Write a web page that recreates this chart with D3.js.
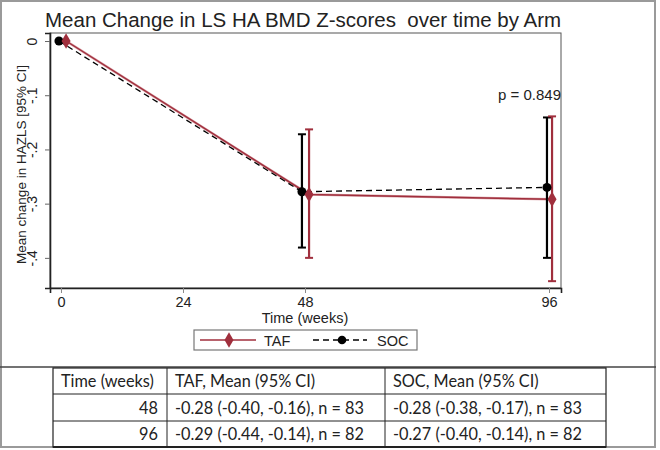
<!DOCTYPE html>
<html>
<head>
<meta charset="utf-8">
<script src="https://cdn.jsdelivr.net/npm/d3@7"></script>
<style>
  html, body { margin: 0; padding: 0; background: #fff; }
  svg { display: block; }
  .arial { font-family: Arial, "Liberation Sans", sans-serif; }
  .tbl { font-family: Lato, "Open Sans", sans-serif; }
</style>
</head>
<body>
<svg id="chart" width="660" height="450"></svg>
<script>
// ---------- data ----------
const weeks = [0, 48, 96];
const xTicks = [0, 24, 48, 96];
const yTicks = [0, -0.1, -0.2, -0.3, -0.4];
const yTickLabels = ["0", "-.1", "-.2", "-.3", "-.4"];

// slightly jittered plotting times (as drawn)
const tafTime = [1.0, 48.8, 96.6];
const socTime = [-0.4, 47.4, 95.6];

const tafMean = [0, -0.283, -0.292];
const tafLo   = [null, -0.400, -0.443];
const tafHi   = [null, -0.163, -0.139];

const socMean = [0, -0.278, -0.270];
const socLo   = [null, -0.381, -0.400];
const socHi   = [null, -0.172, -0.141];

const seriesNames = ["TAF", "SOC"];
const pText = "p = 0.849";
const titleText = "Mean Change in LS HA BMD Z-scores  over time by Arm";
const yAxisTitle = "Mean change in HAZLS [95% CI]";
const xAxisTitle = "Time (weeks)";

const tableHeader = ["Time (weeks)", "TAF, Mean (95% CI)", "SOC, Mean (95% CI)"];
const tableWeeks = ["48", "96"];
const tableTaf = ["-0.28 (-0.40, -0.16), n = 83", "-0.29 (-0.44, -0.14), n = 82"];
const tableSoc = ["-0.28 (-0.38, -0.17), n = 83", "-0.27 (-0.40, -0.14), n = 82"];

// ---------- layout ----------
const svg = d3.select("#chart");
const TAF_COL = "#a02f3d";
const SOC_COL = "#000";

const plot = {left: 50, right: 561, top: 33, bottom: 288};
const x = d3.scaleLinear().domain([-2.16, 98.36]).range([plot.left, plot.right]);
const y = d3.scaleLinear().domain([0.0148, -0.4556]).range([plot.top, plot.bottom]);

// outer frame
svg.append("rect").attr("x", 1).attr("y", 1).attr("width", 654).attr("height", 446)
  .attr("fill", "#fff").attr("stroke", "#9a9a9a").attr("stroke-width", 2);
svg.append("line").attr("x1", 0).attr("x2", 656).attr("y1", 367).attr("y2", 367)
  .attr("stroke", "#444").attr("stroke-width", 1.5);

// title
svg.append("text").attr("class", "arial").attr("x", 45).attr("y", 27)
  .style("white-space", "pre")
  .attr("font-size", 20.5).attr("fill", "#222").text(titleText);

// plot frame
svg.append("rect").attr("x", plot.left).attr("y", plot.top)
  .attr("width", plot.right - plot.left).attr("height", plot.bottom - plot.top)
  .attr("fill", "#fff").attr("stroke", "#555").attr("stroke-width", 1);

// axes
const yAxis = d3.axisLeft(y).tickValues(yTicks).tickSize(5).tickFormat((d, i) => yTickLabels[i]);
const gy = svg.append("g").attr("transform", `translate(${plot.left},0)`).call(yAxis);
gy.select(".domain").attr("stroke", "#222").attr("stroke-width", 1.6);
gy.selectAll(".tick line").attr("stroke", "#666");
gy.selectAll(".tick text").remove();
gy.selectAll(".tick").append("text").attr("class", "arial")
  .attr("transform", "translate(-13,0) rotate(-90)")
  .attr("text-anchor", "middle").attr("fill", "#222").attr("font-size", 14)
  .text((d, i) => yTickLabels[i]);

const xAxis = d3.axisBottom(x).tickValues(xTicks).tickSize(5).tickFormat(d3.format("d"));
const gx = svg.append("g").attr("transform", `translate(0,${plot.bottom})`).call(xAxis);
gx.select(".domain").attr("stroke", "#222").attr("stroke-width", 1.6);
gx.selectAll(".tick line").attr("stroke", "#888");
gx.selectAll(".tick text").attr("class", "arial").attr("font-size", 14.5).attr("fill", "#222")
  .attr("dy", 0).attr("y", 18.5);

// axis titles
svg.append("text").attr("class", "arial")
  .attr("transform", `translate(26,${(plot.top + plot.bottom) / 2 + 4}) rotate(-90)`)
  .attr("text-anchor", "middle").attr("font-size", 13.5).attr("fill", "#222").text(yAxisTitle);
svg.append("text").attr("class", "arial").attr("x", 305).attr("y", 323).attr("text-anchor", "middle")
  .attr("font-size", 14.5).attr("fill", "#222").text(xAxisTitle);

// p value
svg.append("text").attr("class", "arial").attr("x", plot.right).attr("y", 100).attr("text-anchor", "end")
  .attr("font-size", 15).attr("fill", "#222").text(pText);

// lines
const tafPts = weeks.map((w, i) => ({t: tafTime[i], m: tafMean[i], lo: tafLo[i], hi: tafHi[i]}));
const socPts = weeks.map((w, i) => ({t: socTime[i], m: socMean[i], lo: socLo[i], hi: socHi[i]}));
const line = d3.line().x(d => x(d.t)).y(d => y(d.m));

svg.append("path").datum(tafPts).attr("d", line).attr("fill", "none")
  .attr("stroke", "#d9a0a6").attr("stroke-width", 2.6);
svg.append("path").datum(tafPts).attr("d", line).attr("fill", "none")
  .attr("stroke", TAF_COL).attr("stroke-width", 1.4);
svg.append("path").datum(socPts).attr("d", line).attr("fill", "none")
  .attr("stroke", SOC_COL).attr("stroke-width", 1.3).attr("stroke-dasharray", "6,4");

// error bars
function errorBars(pts, col) {
  const g = svg.append("g");
  const e = pts.filter(d => d.lo !== null);
  g.selectAll("line.v").data(e).join("line")
    .attr("x1", d => x(d.t)).attr("x2", d => x(d.t))
    .attr("y1", d => y(d.lo)).attr("y2", d => y(d.hi))
    .attr("stroke", col).attr("stroke-width", 2.2);
  ["lo", "hi"].forEach(k => {
    g.selectAll("line.c" + k).data(e).join("line")
      .attr("x1", d => x(d.t) - 4).attr("x2", d => x(d.t) + 4)
      .attr("y1", d => y(d[k])).attr("y2", d => y(d[k]))
      .attr("stroke", col).attr("stroke-width", 2);
  });
}
errorBars(socPts, SOC_COL);
errorBars(tafPts, TAF_COL);

// markers
const diamond = d3.symbol().type(d3.symbolDiamond).size(70);
svg.append("g").selectAll("circle").data(socPts).join("circle")
  .attr("cx", d => x(d.t)).attr("cy", d => y(d.m)).attr("r", 4.5).attr("fill", SOC_COL);
svg.append("g").selectAll("path").data(tafPts).join("path")
  .attr("d", diamond).attr("transform", d => `translate(${x(d.t)},${y(d.m)})`)
  .attr("fill", TAF_COL);

// legend
const lg = svg.append("g");
lg.append("rect").attr("x", 194).attr("y", 330).attr("width", 223).attr("height", 20)
  .attr("fill", "#fff").attr("stroke", "#777").attr("stroke-width", 1.2);
lg.append("line").attr("x1", 200).attr("x2", 256).attr("y1", 340).attr("y2", 340)
  .attr("stroke", TAF_COL).attr("stroke-width", 1.4);
lg.append("path").attr("d", diamond).attr("transform", "translate(229,340)").attr("fill", TAF_COL);
lg.append("text").attr("class", "arial").attr("x", 264).attr("y", 345.5).attr("font-size", 14.5).attr("fill", "#222").text(seriesNames[0]);
lg.append("line").attr("x1", 313).attr("x2", 367).attr("y1", 340).attr("y2", 340)
  .attr("stroke", SOC_COL).attr("stroke-width", 1.3).attr("stroke-dasharray", "6,4");
lg.append("circle").attr("cx", 342).attr("cy", 340).attr("r", 4.3).attr("fill", SOC_COL);
lg.append("text").attr("class", "arial").attr("x", 377).attr("y", 345.5).attr("font-size", 14.5).attr("fill", "#222").text(seriesNames[1]);

// table
const tb = svg.append("g");
const tL = 53, tR = 606, c1 = 167, c2 = 385;
const rowsY = [368, 394, 421, 447];
tb.append("rect").attr("x", tL).attr("y", rowsY[0]).attr("width", tR - tL).attr("height", rowsY[3] - rowsY[0])
  .attr("fill", "#fff").attr("stroke", "#222").attr("stroke-width", 1.2);
[rowsY[1], rowsY[2]].forEach(yy => tb.append("line").attr("x1", tL).attr("x2", tR)
  .attr("y1", yy).attr("y2", yy).attr("stroke", "#222").attr("stroke-width", 1));
tb.append("line").attr("x1", tL).attr("x2", tR).attr("y1", 447).attr("y2", 447).attr("stroke", "#222").attr("stroke-width", 2);
[c1, c2].forEach(xx => tb.append("line").attr("x1", xx).attr("x2", xx)
  .attr("y1", rowsY[0]).attr("y2", rowsY[3]).attr("stroke", "#222").attr("stroke-width", 1));
const fs = 16.3;
const midY = i => (rowsY[i] + rowsY[i + 1]) / 2 + 6;
function cell(xx, yy, txt, anchor) {
  tb.append("text").attr("class", "tbl").attr("x", xx).attr("y", yy)
    .attr("text-anchor", anchor || "start").attr("font-size", fs).attr("fill", "#222").text(txt);
}
cell(61, midY(0), tableHeader[0]);
cell(175, midY(0), tableHeader[1]);
cell(393, midY(0), tableHeader[2]);
tableWeeks.forEach((w, i) => {
  cell(158, midY(i + 1), w, "end");
  cell(175, midY(i + 1), tableTaf[i]);
  cell(393, midY(i + 1), tableSoc[i]);
});
</script>
</body>
</html>
